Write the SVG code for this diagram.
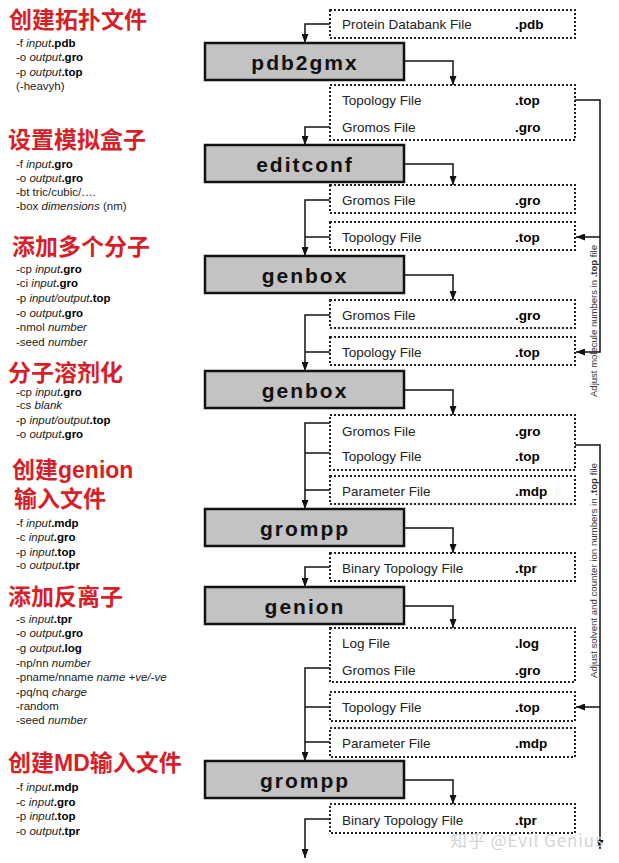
<svg xmlns="http://www.w3.org/2000/svg" width="619" height="863" viewBox="0 0 619 863">
<defs>
<style>
.title{font-family:"Liberation Sans","Noto Sans CJK SC",sans-serif;font-weight:700;font-size:23px;fill:#d81e27}
.opt{font-family:"Liberation Sans",Arial,sans-serif;font-size:11.5px;fill:#222}
.it{font-style:italic}
.b{font-weight:bold;fill:#000}
.proc rect{fill:#c3c3c3;stroke:#111;stroke-width:2.5}
.proc text{font-family:"Liberation Sans",Arial,sans-serif;font-weight:bold;font-size:21px;letter-spacing:2px;fill:#111;text-anchor:middle}
.file rect{fill:none;stroke:#222;stroke-width:2;stroke-dasharray:2,2}
.file text{font-family:"Liberation Sans",Arial,sans-serif;font-size:13.5px;fill:#222}
.file .ext{font-weight:bold;fill:#000}
.conn path{fill:none;stroke:#111;stroke-width:1.5}
.side{font-family:"Liberation Sans",Arial,sans-serif;font-size:9px;fill:#333}
</style>
<marker id="ah" viewBox="0 0 9 7" refX="9" refY="3.5" markerWidth="9" markerHeight="7" markerUnits="userSpaceOnUse" orient="auto">
<path d="M0,0 L9,3.5 L0,7 z" fill="#111"/>
</marker>
</defs>
<rect width="619" height="863" fill="#fff"/>

<g id="notes">
<text class="title" x="9" y="28">创建拓扑文件</text>
<text class="opt" x="16" y="47">-f <tspan class="it">input</tspan><tspan class="b">.pdb</tspan></text>
<text class="opt" x="16" y="61">-o <tspan class="it">output</tspan><tspan class="b">.gro</tspan></text>
<text class="opt" x="16" y="76">-p <tspan class="it">output</tspan><tspan class="b">.top</tspan></text>
<text class="opt" x="16" y="90">(-heavyh)</text>

<text class="title" x="8" y="148">设置模拟盒子</text>
<text class="opt" x="16" y="168">-f <tspan class="it">input</tspan><tspan class="b">.gro</tspan></text>
<text class="opt" x="16" y="182">-o <tspan class="it">output</tspan><tspan class="b">.gro</tspan></text>
<text class="opt" x="16" y="196">-bt tric/cubic/….</text>
<text class="opt" x="16" y="210">-box <tspan class="it">dimensions</tspan> (nm)</text>

<text class="title" x="12" y="255">添加多个分子</text>
<text class="opt" x="16" y="273">-cp <tspan class="it">input</tspan><tspan class="b">.gro</tspan></text>
<text class="opt" x="16" y="287">-ci <tspan class="it">input</tspan><tspan class="b">.gro</tspan></text>
<text class="opt" x="16" y="302">-p <tspan class="it">input/output</tspan><tspan class="b">.top</tspan></text>
<text class="opt" x="16" y="317">-o <tspan class="it">output</tspan><tspan class="b">.gro</tspan></text>
<text class="opt" x="16" y="331">-nmol <tspan class="it">number</tspan></text>
<text class="opt" x="16" y="346">-seed <tspan class="it">number</tspan></text>

<text class="title" x="8" y="381">分子溶剂化</text>
<text class="opt" x="16" y="396">-cp <tspan class="it">input</tspan><tspan class="b">.gro</tspan></text>
<text class="opt" x="16" y="409">-cs <tspan class="it">blank</tspan></text>
<text class="opt" x="16" y="424">-p <tspan class="it">input/output</tspan><tspan class="b">.top</tspan></text>
<text class="opt" x="16" y="438">-o <tspan class="it">output</tspan><tspan class="b">.gro</tspan></text>

<text class="title" x="12" y="478">创建genion</text>
<text class="title" x="14" y="507">输入文件</text>
<text class="opt" x="16" y="527">-f <tspan class="it">input</tspan><tspan class="b">.mdp</tspan></text>
<text class="opt" x="16" y="541">-c <tspan class="it">input</tspan><tspan class="b">.gro</tspan></text>
<text class="opt" x="16" y="556">-p <tspan class="it">input</tspan><tspan class="b">.top</tspan></text>
<text class="opt" x="16" y="569">-o <tspan class="it">output</tspan><tspan class="b">.tpr</tspan></text>

<text class="title" x="8" y="605">添加反离子</text>
<text class="opt" x="16" y="623">-s <tspan class="it">input</tspan><tspan class="b">.tpr</tspan></text>
<text class="opt" x="16" y="637">-o <tspan class="it">output</tspan><tspan class="b">.gro</tspan></text>
<text class="opt" x="16" y="652">-g <tspan class="it">output</tspan><tspan class="b">.log</tspan></text>
<text class="opt" x="16" y="667">-np/nn <tspan class="it">number</tspan></text>
<text class="opt" x="16" y="681">-pname/nname <tspan class="it">name +ve/-ve</tspan></text>
<text class="opt" x="16" y="696">-pq/nq <tspan class="it">charge</tspan></text>
<text class="opt" x="16" y="710">-random</text>
<text class="opt" x="16" y="724">-seed <tspan class="it">number</tspan></text>

<text class="title" x="8" y="771">创建MD输入文件</text>
<text class="opt" x="16" y="791">-f <tspan class="it">input</tspan><tspan class="b">.mdp</tspan></text>
<text class="opt" x="16" y="806">-c <tspan class="it">input</tspan><tspan class="b">.gro</tspan></text>
<text class="opt" x="16" y="820">-p <tspan class="it">input</tspan><tspan class="b">.top</tspan></text>
<text class="opt" x="16" y="835">-o <tspan class="it">output</tspan><tspan class="b">.tpr</tspan></text>
</g>

<g id="p-pdb2gmx" class="proc"><rect x="205" y="43" width="199" height="37"/><text x="305" y="70">pdb2gmx</text></g>
<g id="p-editconf" class="proc"><rect x="205" y="145" width="199" height="37"/><text x="305" y="172">editconf</text></g>
<g id="p-genbox1" class="proc"><rect x="205" y="256" width="199" height="37"/><text x="305" y="283">genbox</text></g>
<g id="p-genbox2" class="proc"><rect x="205" y="371" width="199" height="37"/><text x="305" y="398">genbox</text></g>
<g id="p-grompp1" class="proc"><rect x="205" y="509" width="199" height="37"/><text x="305" y="536">grompp</text></g>
<g id="p-genion" class="proc"><rect x="205" y="587" width="199" height="37"/><text x="305" y="614">genion</text></g>
<g id="p-grompp2" class="proc"><rect x="205" y="761" width="199" height="37"/><text x="305" y="788">grompp</text></g>

<g id="f-pdb" class="file"><rect x="330" y="10" width="245" height="28"/><text x="342" y="29">Protein Databank File</text><text class="ext" x="515" y="29">.pdb</text></g>
<g id="f-topgro1" class="file"><rect x="330" y="85" width="245" height="55"/><text x="342" y="105">Topology File</text><text class="ext" x="515" y="105">.top</text><text x="342" y="132">Gromos File</text><text class="ext" x="515" y="132">.gro</text></g>
<g id="f-gro2" class="file"><rect x="330" y="185" width="245" height="28"/><text x="342" y="205">Gromos File</text><text class="ext" x="515" y="205">.gro</text></g>
<g id="f-top2" class="file"><rect x="330" y="222" width="245" height="28"/><text x="342" y="242">Topology File</text><text class="ext" x="515" y="242">.top</text></g>
<g id="f-gro3" class="file"><rect x="330" y="300" width="245" height="28"/><text x="342" y="320">Gromos File</text><text class="ext" x="515" y="320">.gro</text></g>
<g id="f-top3" class="file"><rect x="330" y="337" width="245" height="28"/><text x="342" y="357">Topology File</text><text class="ext" x="515" y="357">.top</text></g>
<g id="f-grotop4" class="file"><rect x="330" y="415" width="245" height="55"/><text x="342" y="436">Gromos File</text><text class="ext" x="515" y="436">.gro</text><text x="342" y="461">Topology File</text><text class="ext" x="515" y="461">.top</text></g>
<g id="f-mdp4" class="file"><rect x="330" y="476" width="245" height="28"/><text x="342" y="496">Parameter File</text><text class="ext" x="515" y="496">.mdp</text></g>
<g id="f-tpr5" class="file"><rect x="330" y="553" width="245" height="28"/><text x="342" y="573">Binary Topology File</text><text class="ext" x="515" y="573">.tpr</text></g>
<g id="f-loggro6" class="file"><rect x="330" y="628" width="245" height="54"/><text x="342" y="648">Log File</text><text class="ext" x="515" y="648">.log</text><text x="342" y="675">Gromos File</text><text class="ext" x="515" y="675">.gro</text></g>
<g id="f-top6" class="file"><rect x="330" y="692" width="245" height="29"/><text x="342" y="712">Topology File</text><text class="ext" x="515" y="712">.top</text></g>
<g id="f-mdp6" class="file"><rect x="330" y="728" width="245" height="29"/><text x="342" y="748">Parameter File</text><text class="ext" x="515" y="748">.mdp</text></g>
<g id="f-tpr7" class="file"><rect x="330" y="804" width="245" height="29"/><text x="342" y="825">Binary Topology File</text><text class="ext" x="515" y="825">.tpr</text></g>

<g id="connectors" class="conn">
<path d="M330,24 H305 V43" marker-end="url(#ah)"/>
<path d="M404,61 H453 V85" marker-end="url(#ah)"/>
<path d="M330,127 H305 V145" marker-end="url(#ah)"/>
<path d="M404,164 H453 V185" marker-end="url(#ah)"/>
<path d="M330,200 H305 V256" marker-end="url(#ah)"/>
<path d="M330,237 H305"/>
<path d="M404,275 H453 V300" marker-end="url(#ah)"/>
<path d="M330,315 H305 V371" marker-end="url(#ah)"/>
<path d="M330,352 H305"/>
<path d="M404,390 H453 V415" marker-end="url(#ah)"/>
<path d="M330,423 H305 V509" marker-end="url(#ah)"/>
<path d="M330,453 H305"/>
<path d="M330,490 H305"/>
<path d="M404,528 H453 V553" marker-end="url(#ah)"/>
<path d="M330,567 H305 V587" marker-end="url(#ah)"/>
<path d="M404,606 H453 V628" marker-end="url(#ah)"/>
<path d="M330,668 H305 V761" marker-end="url(#ah)"/>
<path d="M330,707 H305"/>
<path d="M330,742 H305"/>
<path d="M404,780 H453 V804" marker-end="url(#ah)"/>
<path d="M330,819 H305 V858" marker-end="url(#ah)"/>
<path d="M575,100 H600 V352 H576" marker-end="url(#ah)"/>
<path d="M600,237 H576" marker-end="url(#ah)"/>
<path d="M575,445 H600 V849" marker-end="url(#ah)"/>
<path d="M600,707 H576" marker-end="url(#ah)"/>
</g>

<g id="side-labels">
<text class="side" transform="translate(597,397) rotate(-90)" textLength="152" lengthAdjust="spacingAndGlyphs">Adjust molecule numbers in <tspan font-weight="bold">.top</tspan> file</text>
<text class="side" transform="translate(597,678) rotate(-90)" textLength="215" lengthAdjust="spacingAndGlyphs">Adjust solvent and counter ion numbers in <tspan font-weight="bold">.top</tspan> file</text>
</g>

<g id="watermark">
<text x="450" y="847" font-family="'Noto Sans CJK SC','Liberation Sans',sans-serif" font-size="17" fill="#d4d4d4" textLength="153">知乎 @Evil Genius</text>
</g>
</svg>
